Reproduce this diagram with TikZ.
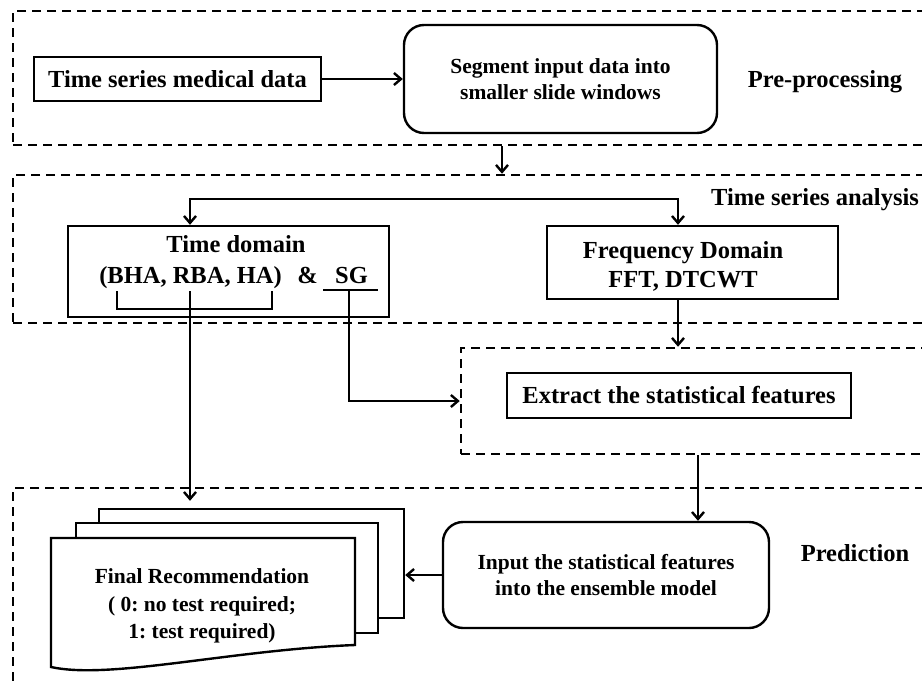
\documentclass[tikz,border=0pt]{standalone}
\usepackage{fontspec}
\setmainfont{Liberation Serif}
\usetikzlibrary{arrows.meta}
\frenchspacing
\begin{document}
\begin{tikzpicture}[x=1pt,y=-1pt,
  bigtxt/.style={font=\fontsize{24.5}{29}\selectfont\bfseries},
  smalltxt/.style={font=\fontsize{21.5}{26.5}\selectfont\bfseries},
  stage/.style={draw, line width=2.5pt, dash pattern=on 9pt off 6pt, rectangle, inner sep=0pt},
  plainbox/.style={draw, line width=2.4pt, rectangle, inner sep=0pt},
  roundbox/.style={draw, line width=2.4pt, rectangle, rounded corners=20pt, inner sep=0pt},
  sheet/.style={draw, line width=2.4pt, fill=white, inner sep=0pt},
  link/.style={line width=2.4pt},
  tip/.tip={Straight Barb[length=7pt,width=12pt]},
  arr/.style={link, -tip},
]
\useasboundingbox (0,0) rectangle (922,683);
\clip (0,0) rectangle (922,683);

% stage frames (open to the right)
\node[stage, minimum width=922pt, minimum height=134pt] (pre)  at (474,78)  {};
\node[stage, minimum width=922pt, minimum height=148pt] (tsa)  at (474,249) {};
\node[stage, minimum width=474pt, minimum height=106pt] (ext)  at (698,401) {};
\node[stage, minimum width=922pt, minimum height=222pt] (pred) at (474,599) {};

% stage titles
\node[bigtxt] (prelbl)  at (825,82)  {Pre-processing};
\node[bigtxt] (tsalbl)  at (815,200) {Time series analysis};
\node[bigtxt] (predlbl) at (855,553) {Prediction};

% pre-processing
\node[plainbox, bigtxt, minimum width=287pt, minimum height=44pt] (tsdata) at (177.5,79) {Time series medical data};
\node[roundbox, smalltxt, align=center, minimum width=313pt, minimum height=108pt] (seg) at (560.5,79) {Segment input data into\\smaller slide windows};
\draw[arr] (tsdata) -- (seg);

% time series analysis
\node[plainbox, minimum width=321pt, minimum height=91pt] (tdom) at (228.5,271.5) {};
\node[bigtxt, anchor=base] (tdtitle) at (236,252) {Time domain};
\node[bigtxt, anchor=base] (bha) at (190.5,283) {(BHA, RBA, HA)};
\node[bigtxt, anchor=base] (amp) at (307.5,283) {\&};
\node[bigtxt, anchor=base] (sg)  at (351.5,283) {SG};

\node[plainbox, minimum width=291pt, minimum height=73pt] (fdom) at (692.5,262.5) {};
\node[bigtxt, align=center] (fdomtxt) at (683,266) {Frequency Domain\\FFT, DTCWT};

\coordinate (drop) at (502,0);
\draw[arr] (pre.south -| drop) -- (tsa.north -| drop);

\coordinate (tdin) at (190,199);
\coordinate (fdin) at (678,199);
\draw[link, tip-tip] (tdom.north -| tdin) -- (tdin) -- (fdin) -- (fdom.north -| fdin);

% feature extraction
\node[plainbox, bigtxt, minimum width=344pt, minimum height=45pt] (extbox) at (679,395.5) {Extract the statistical features};
\draw[arr] (fdom.south -| fdin) -- (ext.north -| fdin);

% groupings under the time-domain methods
\draw[link] (117,291) |- (272,309) -- (272,291);
\draw[link] (323,290) -- (378,290);
\coordinate (bhastem) at (190,291);
\coordinate (sgstem) at (349,290);
\draw[arr] (sgstem) |- (ext.west);

% prediction
\node[roundbox, smalltxt, align=center, minimum width=326pt, minimum height=106pt] (inp) at (606,575) {Input the statistical features\\into the ensemble model};
\draw[arr] (ext.south) -- (inp.north -| ext.south);

\node[sheet, minimum width=305pt, minimum height=109pt] (back) at (251.5,563.5) {};
\node[sheet, minimum width=302pt, minimum height=110pt] (middle) at (227,578) {};
\draw[sheet] (51,538) -- (355,538) -- (355,645) .. controls (230,650) and (110,680) .. (51,667) -- cycle;
\node[smalltxt, align=center, font=\fontsize{21.5}{27.5}\selectfont\bfseries] (rec) at (202,606) {Final Recommendation\\( 0: no test required;\\1: test required)};

\draw[arr, shorten >=7pt] (bhastem) -- (bhastem |- back.north);
\draw[arr] (inp.west) -- (inp.west -| back.east);
\end{tikzpicture}
\end{document}
